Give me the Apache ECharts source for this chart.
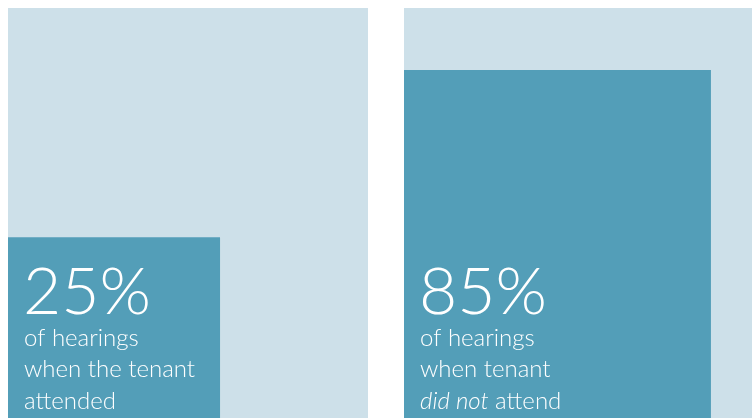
<!DOCTYPE html>
<html>
<head>
<meta charset="utf-8">
<script src="https://cdn.jsdelivr.net/npm/echarts@6/dist/echarts.min.js"></script>
<style>
html,body{margin:0;padding:0;background:#fff;}
#chart{width:752px;height:418px;}
</style>
</head>
<body>
<div id="chart"></div>
<script>
// Data
const shareLabels = ['25%', '85%'];
const shareValues = [25, 85];
const boxWidthPct = [58.9, 88.2];   // dark box width, % of visible panel width
const boxHeightPct = [44.1, 84.9];  // dark box height, % of visible panel height
const captionLines = [
  ['of hearings', 'when the tenant', 'attended'],
  ['of hearings', 'when tenant', '{i|did not} attend']
];

const LIGHT = '#cde0e9';
const DARK = '#539eb8';
const BIG_FONT = '300 66px "Lato Light", Lato, sans-serif';
const SMALL_FONT = '300 24px "Lato Light", Lato, sans-serif';

const chart = echarts.init(document.getElementById('chart'), null, {renderer: 'canvas'});

function makeRender(idx) {
  return function (params, api) {
    const p0 = api.coord([0, 0]);
    const p1 = api.coord([api.value(0), api.value(1)]);
    const left = p0[0], bottom = p0[1];
    const children = [
      {type: 'rect', shape: {x: left, y: p1[1], width: p1[0] - left, height: bottom - p1[1]}, style: {fill: DARK}},
      {type: 'text', x: left + 15, y: bottom - 158, style: {text: shareLabels[idx], font: BIG_FONT, fill: '#fff', verticalAlign: 'top', align: 'left'}}
    ];
    captionLines[idx].forEach(function (line, k) {
      children.push({
        type: 'text', x: left + 16, y: bottom - 92 + k * 31.5,
        style: {
          text: line, font: SMALL_FONT, fill: '#fff', verticalAlign: 'top', align: 'left',
          rich: {i: {font: 'italic 300 24px "Lato Light", Lato, sans-serif', fill: '#fff'}}
        }
      });
    });
    return {type: 'group', children: children};
  };
}

const grids = [
  {left: 8, top: 8, width: 360, bottom: 0},
  {left: 404, top: 8, right: 0, bottom: 0}
];

chart.setOption({
  animation: false,
  grid: grids.map(g => Object.assign({show: true, backgroundColor: LIGHT, borderWidth: 0}, g)),
  xAxis: grids.map((g, i) => ({type: 'value', gridIndex: i, min: 0, max: 100, show: false})),
  yAxis: grids.map((g, i) => ({type: 'value', gridIndex: i, min: 0, max: 100, show: false})),
  series: shareValues.map((v, i) => ({
    type: 'custom',
    name: shareLabels[i],
    xAxisIndex: i,
    yAxisIndex: i,
    clip: false,
    renderItem: makeRender(i),
    data: [[boxWidthPct[i], boxHeightPct[i], v]]
  }))
});
</script>
</body>
</html>
